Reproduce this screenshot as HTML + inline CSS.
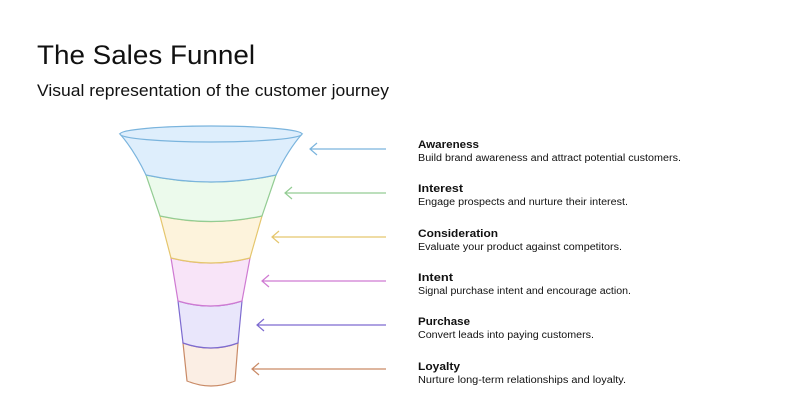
<!DOCTYPE html>
<html><head><meta charset="utf-8"><style>
html,body{margin:0;padding:0;background:#fff;width:802px;height:409px;overflow:hidden}
text{font-family:"Liberation Sans",sans-serif;fill:#111}
</style></head><body>
<svg width="802" height="409" viewBox="0 0 802 409" xmlns="http://www.w3.org/2000/svg">
<text x="37" y="64" font-size="27" textLength="218" lengthAdjust="spacingAndGlyphs">The Sales Funnel</text>
<text x="37" y="96" font-size="16.5" textLength="352" lengthAdjust="spacingAndGlyphs" fill="#222">Visual representation of the customer journey</text>

<path d="M187,381 Q211,391 235,381 L238,343 Q211,353 183,343 Z" fill="#fbeee4" stroke="#c98a66" stroke-width="1.2"/>
<path d="M183,343 Q211,353 238,343 L242,301 Q211,311 178,301 Z" fill="#e9e6fb" stroke="#7d6bd0" stroke-width="1.2"/>
<path d="M178,301 Q211,311 242,301 L250,258 Q211,268 171,258 Z" fill="#f8e4f8" stroke="#cf7ad2" stroke-width="1.2"/>
<path d="M171,258 Q211,268 250,258 L262,216 Q211,227 160,216 Z" fill="#fdf3dc" stroke="#e5c66d" stroke-width="1.2"/>
<path d="M160,216 Q211,227 262,216 L276,175 Q211,189 146,175 Z" fill="#ecfaec" stroke="#93cc93" stroke-width="1.2"/>
<path d="M146,175 Q211,189 276,175 Q288,150 302,134 L120,134 Q134,150 146,175 Z" fill="#deeefc" stroke="#7ab4dd" stroke-width="1.2"/>
<ellipse cx="211" cy="134" rx="91" ry="8" fill="#deeefc" stroke="#7ab4dd" stroke-width="1.2"/>

<g fill="none" stroke-width="1.2">
<g stroke="#7ab4dd"><path d="M386,149H310M317,143L310,149L317,155"/></g>
<g stroke="#93cc93"><path d="M386,193H285M292,187L285,193L292,199"/></g>
<g stroke="#e5c66d"><path d="M386,237H272M279,231L272,237L279,243"/></g>
<g stroke="#cf7ad2"><path d="M386,281H262M269,275L262,281L269,287"/></g>
<g stroke="#7d6bd0"><path d="M386,325H257M264,319L257,325L264,331"/></g>
<g stroke="#c98a66"><path d="M386,369H252M259,363L252,369L259,375"/></g>
</g>

<g font-size="11">
<text x="418" y="148" font-weight="bold" textLength="61" lengthAdjust="spacingAndGlyphs">Awareness</text>
<text x="418" y="161" font-size="10" textLength="263" lengthAdjust="spacingAndGlyphs" fill="#222">Build brand awareness and attract potential customers.</text>
<text x="418" y="192" font-weight="bold" textLength="45" lengthAdjust="spacingAndGlyphs">Interest</text>
<text x="418" y="205" font-size="10" textLength="210" lengthAdjust="spacingAndGlyphs" fill="#222">Engage prospects and nurture their interest.</text>
<text x="418" y="237" font-weight="bold" textLength="80" lengthAdjust="spacingAndGlyphs">Consideration</text>
<text x="418" y="250" font-size="10" textLength="204" lengthAdjust="spacingAndGlyphs" fill="#222">Evaluate your product against competitors.</text>
<text x="418" y="281" font-weight="bold" textLength="35" lengthAdjust="spacingAndGlyphs">Intent</text>
<text x="418" y="294" font-size="10" textLength="213" lengthAdjust="spacingAndGlyphs" fill="#222">Signal purchase intent and encourage action.</text>
<text x="418" y="325" font-weight="bold" textLength="52" lengthAdjust="spacingAndGlyphs">Purchase</text>
<text x="418" y="338" font-size="10" textLength="176" lengthAdjust="spacingAndGlyphs" fill="#222">Convert leads into paying customers.</text>
<text x="418" y="370" font-weight="bold" textLength="42" lengthAdjust="spacingAndGlyphs">Loyalty</text>
<text x="418" y="383" font-size="10" textLength="208" lengthAdjust="spacingAndGlyphs" fill="#222">Nurture long-term relationships and loyalty.</text>
</g>
</svg>
</body></html>
